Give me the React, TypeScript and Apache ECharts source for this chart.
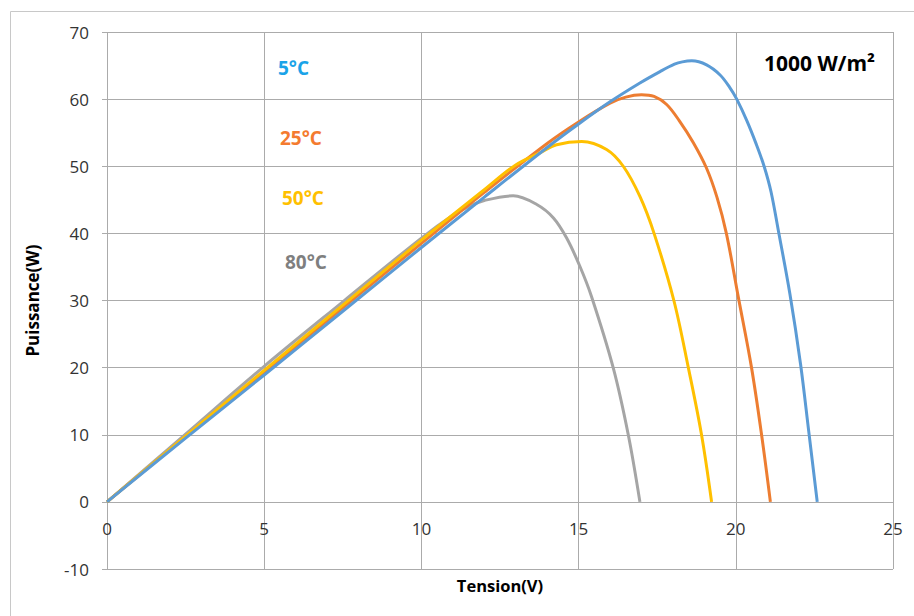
import React, { useEffect, useRef } from "react";
import * as echarts from "echarts";

// Tension (V) / Puissance (W)
const v5 = [0, 2.5, 5, 7.5, 10, 12, 14, 15, 16, 16.95, 17.59, 18.05, 18.3, 18.6, 19.07, 19.5, 19.8, 20.03, 20.35, 20.65, 20.9, 21.12, 21.35, 21.72, 22.06, 22.32, 22.59];
const p5 = [0, 9.5, 18.9, 28.4, 37.9, 45.4, 52.8, 56.3, 59.6, 62.4, 64.1, 65.2, 65.55, 65.7, 65.1, 63.6, 61.8, 60.0, 56.8, 53.3, 50, 46.2, 40.5, 31, 20.5, 10.5, 0];

const v25 = [0, 2.5, 5, 7.5, 10, 12, 14, 15, 16, 16.5, 17.0, 17.4, 17.8, 18.2, 18.65, 19.07, 19.4, 19.7, 20.08, 20.5, 20.82, 21.1];
const p25 = [0, 9.7, 19.3, 28.9, 38.5, 46.1, 53.4, 56.6, 59.4, 60.3, 60.65, 60.4, 59.2, 56.8, 53.5, 49.7, 45.4, 40, 30.5, 20, 10, 0];

const v50 = [0, 2.5, 5, 7.5, 10, 12, 13, 13.77, 14.3, 15.1, 15.89, 16.42, 16.95, 17.4, 18.03, 18.49, 18.91, 19.23];
const p50 = [0, 9.8, 19.6, 29.3, 39, 46.5, 50.2, 52, 53.2, 53.7, 52.5, 50, 45.5, 40, 30, 20, 10, 0];

const v80 = [0, 2.5, 5, 7.5, 10, 11, 11.5, 12, 12.92, 13.67, 14.2, 14.62, 15.04, 15.41, 16.1, 16.58, 16.95];
const p80 = [0, 10.1, 20.2, 29.8, 39.3, 42.7, 44.0, 44.9, 45.6, 44.3, 42.3, 39.3, 35.1, 30.6, 20, 10, 0];

const seriesNames = ["5°C", "25°C", "50°C", "80°C"];
const seriesColors = ["#5B9BD5", "#ED7D31", "#FFC000", "#A5A5A5"];
const labelColors = ["#1AA3E8", "#F47B2F", "#FFC000", "#7F7F7F"];
const irradiance = "1000 W/m²";
const xTitle = "Tension(V)";
const yTitle = "Puissance(W)";

const pair = (xs: number[], ys: number[]) => xs.map((x, i) => [x, ys[i]]);

export default function App() {
  const ref = useRef<HTMLDivElement>(null);
  useEffect(() => {
    if (!ref.current) return;
    const chart = echarts.init(ref.current, null, { renderer: "svg" });
    const datasets = [pair(v5, p5), pair(v25, p25), pair(v50, p50), pair(v80, p80)];
    const zOrder = [4, 2, 3, 1];
    const font = "'Open Sans', sans-serif";
    const grid = "#ABABAB";
    const gridTop = 32;
    const gridBottom = 47;
    const plotH = 616 - gridTop - gridBottom;
    // the x axis crosses the y axis at 0 (y range -10..70)
    const zeroOffset = -(plotH * 10) / 80;
    const labelPos = [
      [278, 68],
      [280, 137.5],
      [282, 197.5],
      [285, 261.5],
    ];
    chart.setOption({
      animation: false,
      backgroundColor: "#fff",
      grid: { left: 107, right: 21, top: gridTop, bottom: gridBottom, containLabel: false, outerBoundsMode: "none" },
      xAxis: {
        type: "value",
        min: 0,
        max: 25,
        interval: 5,
        position: "bottom",
        offset: zeroOffset,
        name: xTitle,
        nameLocation: "middle",
        nameGap: 75,
        nameTextStyle: { fontFamily: font, fontWeight: "bold", fontSize: 16.5, color: "#000" },
        axisLine: { show: true, onZero: false, lineStyle: { color: grid, width: 1 } },
        axisTick: { show: false },
        axisLabel: { fontFamily: font, fontSize: 17, color: "#333", margin: 18, showMinLabel: true, showMaxLabel: true },
        splitLine: { show: true, lineStyle: { color: grid, width: 1 } },
      },
      yAxis: {
        type: "value",
        min: -10,
        max: 70,
        interval: 10,
        name: yTitle,
        nameLocation: "middle",
        nameGap: 66,
        nameTextStyle: { fontFamily: font, fontWeight: "bold", fontSize: 17, color: "#000" },
        axisLine: { show: false, onZero: false },
        axisTick: { show: true, length: 5, inside: false, lineStyle: { color: grid } },
        axisLabel: { fontFamily: font, fontSize: 17, color: "#333", margin: 18 },
        splitLine: { show: true, lineStyle: { color: grid, width: 1 } },
      },
      series: datasets.map((d, i) => ({
        type: "line",
        name: seriesNames[i],
        data: d,
        smooth: 0.35,
        showSymbol: false,
        symbol: "none",
        z: zOrder[i],
        lineStyle: { color: seriesColors[i], width: 3 },
        itemStyle: { color: seriesColors[i] },
      })),
      graphic: [
        {
          type: "rect",
          silent: true,
          shape: { x: 10.5, y: 11.5, width: 1000, height: 1000 },
          style: { fill: "none", stroke: "#C8C8C8", lineWidth: 1 },
          z: -10,
        },
        ...seriesNames.map((n, i) => ({
          type: "text",
          x: labelPos[i][0],
          y: labelPos[i][1],
          style: {
            text: n,
            fill: labelColors[i],
            font: `bold 19px ${font}`,
            textAlign: "left",
            textVerticalAlign: "middle",
          },
        })),
        {
          type: "text",
          x: 764,
          y: 63,
          style: {
            text: irradiance,
            fill: "#000",
            font: `bold 21px ${font}`,
            textAlign: "left",
            textVerticalAlign: "middle",
          },
        },
      ],
    });
    return () => chart.dispose();
  }, []);
  return <div ref={ref} style={{ position: "fixed", left: 0, top: 0, width: 914, height: 616 }} />;
}
